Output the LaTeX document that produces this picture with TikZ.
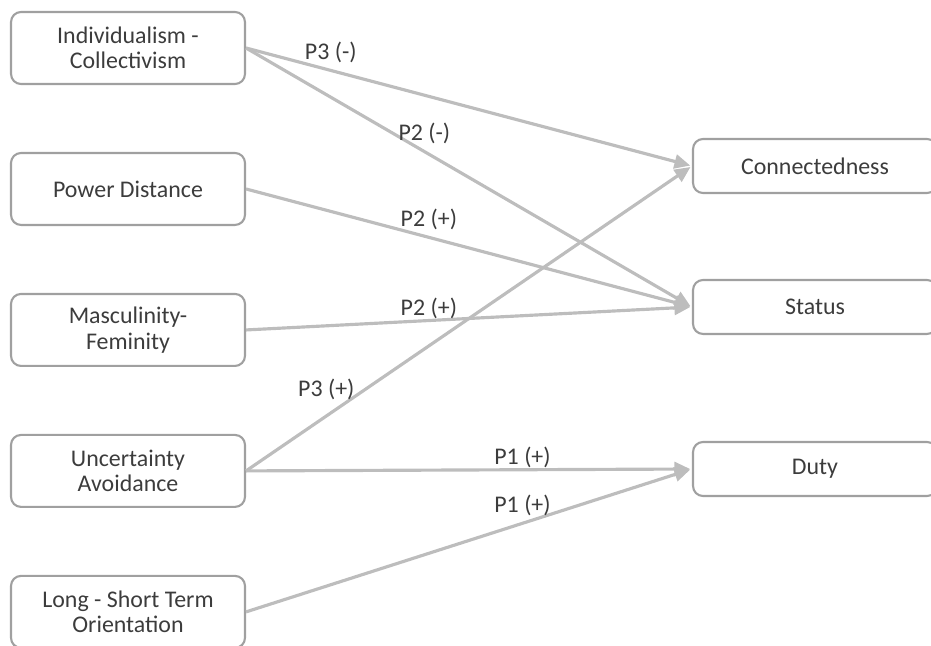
\documentclass[tikz,border=0pt]{standalone}
\usepackage{fontspec}
\setmainfont{Carlito}
\usetikzlibrary{positioning}
\usetikzlibrary{arrows.meta}
\definecolor{boxline}{HTML}{A0A0A0}
\definecolor{arrowgray}{HTML}{BDBDBD}
\definecolor{txtgray}{HTML}{3C3C3C}
\begin{document}
\begin{tikzpicture}[x=0.02cm,y=0.02cm,node distance=2.82cm,
	factor/.style={draw=boxline,line width=1.2pt,rounded corners=0.2cm,minimum width=4.68cm,
		minimum height=1.44cm,align=center,text=txtgray,font=\fontsize{13.6}{14.5}\selectfont},
	outcome/.style={factor,minimum width=4.88cm,minimum height=1.08cm},
	link/.style={-{Triangle[length=9pt,width=8pt]},shorten >=1pt,draw=arrowgray,line width=1.8pt}]
	
	\useasboundingbox (0,0) rectangle (931,-646);
	
	\node[factor] (ic) at (128,-48) {Individualism -\\Collectivism};
	\node[factor] (pd) [below of=ic] {Power Distance};
	\node[factor] (mf) [below of=pd] {Masculinity-\\Feminity};
	\node[factor] (ua) [below of=mf] {Uncertainty\\Avoidance};
	\node[factor] (lst) [below of=ua] {Long - Short Term\\Orientation};
	
	\node[outcome] (con) at (815,-166) {Connectedness};
	\node[outcome] (st) [below of=con] {Status};
	\node[outcome] (dut) at (815,-469) {Duty};
	
	\path[every node/.style={font=\fontsize{13.6}{14.5}\selectfont,text=txtgray}]
	(ic.east) edge [link] node [pos=0.19,above] {P3 (-)} (con.west)
	(ic.east) edge [link] node [pos=0.40,above] {P2 (-)} (st.west)
	(pd.east) edge [link] node [pos=0.41,above] {P2 (+)} (st.west)
	(mf.east) edge [link] node [pos=0.41,above=-3pt] {P2 (+)} (st.west)
	(ua.east) edge [link] node [pos=0.18,above=5pt] {P3 (+)} (con.west)
	(ua.east) edge [link] node [pos=0.62,above=-3pt] {P1 (+)} (dut.west)
	(lst.east) edge [link] node [pos=0.62,above] {P1 (+)} (dut.west);
\end{tikzpicture}
\end{document}
